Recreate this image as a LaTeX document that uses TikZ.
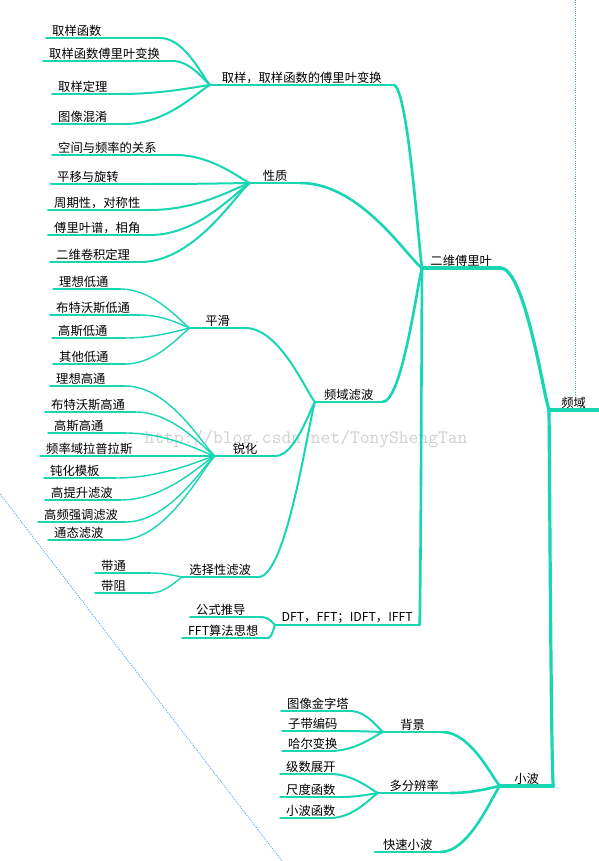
\documentclass[tikz,border=0pt]{standalone}
\usepackage{fontspec}
\setmainfont{Noto Sans CJK SC}
\usetikzlibrary{calc}
\definecolor{mm}{RGB}{24,214,178}
\definecolor{wmark}{RGB}{208,208,208}
\definecolor{dotb}{RGB}{70,160,250}
\tikzset{
  topic/.style={inner xsep=0pt, inner ysep=1pt, font=\fontsize{12.3}{14}\selectfont, text=black},
  lvA/.style={draw=mm, line width=3.6pt, line cap=round},
  lvB/.style={draw=mm, line width=3.2pt, line cap=round},
  lvC/.style={draw=mm, line width=2.6pt, line cap=round},
  lvD/.style={draw=mm, line width=2pt, line cap=round},
  lvE/.style={draw=mm, line width=1.4pt, line cap=round},
  dotline/.style={draw=dotb, line width=0.8pt, dash pattern=on 1pt off 1.2pt},
}
\newcommand\mmtopic[6]{%
  \pgfmathsetmacro\mmw{#3-#2}%
  \node[topic, anchor=south west] (#1) at (#2,#4) {\makebox[\mmw pt][c]{#6}};%
  \draw[#5] (#1.south west) -- (#1.south east);}
\newcommand\mmleaf[6]{%
  \pgfmathsetmacro\mmw{#3-#2}%
  \node[topic, anchor=south west] (#1) at (#2,#4) {\makebox[\mmw pt][l]{\hspace*{6pt}#6}};%
  \draw[#5] (#1.south west) -- (#1.south east);}
\newcommand\conn[3]{%
  \draw[#1] let \p1=(#2.south east), \p2=(#3.south west) in
    (\p1) .. controls ({(\x1+\x2)/2},\y1) and ({\x2-0.12*(\x2-\x1)},{\y2-0.12*(\y2-\y1)}) .. (\p2);}
\begin{document}
\begin{tikzpicture}[x=1pt,y=-1pt]
\fill[white] (0,0) rectangle (598,861);
\useasboundingbox (0,0) rectangle (598,861);
% watermark
\node[text=wmark, font=\fontsize{19}{19}\selectfont\ttfamily] (wm) at (306,439) {http://blog.csdn.net/TonyShengTan};
% dotted guide lines
\coordinate (va) at (575.5,0);
\coordinate (vb) at (575.5,395);
\coordinate (da) at (0,494);
\coordinate (db) at (282,861);
\draw[dotline] (va) -- (vb);
\draw[dotline] (da) -- (db);
% topics
\mmtopic{root}{549}{598}{410}{lvA}{频域}
\mmtopic{ft}{422}{500}{268}{lvB}{二维傅里叶}
\mmtopic{samp}{210}{393}{85}{lvC}{取样，取样函数的傅里叶变换}
\mmtopic{prop}{250}{300}{183}{lvC}{性质}
\mmtopic{filt}{315}{382}{402}{lvC}{频域滤波}
\mmtopic{dft}{275}{419}{625}{lvC}{DFT，FFT；IDFT，IFFT}
\mmleaf{s1}{46}{160}{38}{lvD}{取样函数}
\mmleaf{s2}{43}{172}{61}{lvD}{取样函数傅里叶变换}
\mmleaf{s3}{52}{120}{94}{lvD}{取样定理}
\mmleaf{s4}{52}{125}{124}{lvD}{图像混淆}
\mmleaf{p1}{52}{175}{155}{lvD}{空间与频率的关系}
\mmleaf{p2}{51}{150}{184}{lvD}{平移与旋转}
\mmleaf{p3}{48}{150}{210}{lvD}{周期性，对称性}
\mmleaf{p4}{48}{150}{235}{lvD}{傅里叶谱，相角}
\mmleaf{p5}{50}{140}{262}{lvD}{二维卷积定理}
\mmtopic{smooth}{190}{245}{328}{lvD}{平滑}
\mmtopic{sharp}{215}{275}{456}{lvD}{锐化}
\mmtopic{sel}{182}{258}{577}{lvD}{选择性滤波}
\mmleaf{lo1}{53}{120}{289}{lvE}{理想低通}
\mmleaf{lo2}{50}{140}{315}{lvE}{布特沃斯低通}
\mmleaf{lo3}{52}{125}{338}{lvE}{高斯低通}
\mmleaf{lo4}{53}{125}{364}{lvE}{其他低通}
\mmleaf{hi1}{50}{125}{386}{lvE}{理想高通}
\mmleaf{hi2}{45}{135}{412}{lvE}{布特沃斯高通}
\mmleaf{hi3}{48}{125}{433}{lvE}{高斯高通}
\mmleaf{hi4}{40}{140}{456}{lvE}{频率域拉普拉斯}
\mmleaf{hi5}{44}{115}{478}{lvE}{钝化模板}
\mmleaf{hi6}{45}{120}{500}{lvE}{高提升滤波}
\mmleaf{hi7}{38}{125}{522}{lvE}{高频强调滤波}
\mmleaf{hi8}{48}{120}{540}{lvE}{通态滤波}
\mmleaf{bp}{95}{150}{573}{lvE}{带通}
\mmleaf{bs}{95}{150}{593}{lvE}{带阻}
\mmleaf{d1}{190}{262}{617}{lvD}{公式推导}
\mmleaf{d2}{182}{268}{638}{lvD}{FFT算法思想}
\mmtopic{wav}{500}{553}{786}{lvB}{小波}
\mmtopic{bg}{383}{442}{732}{lvC}{背景}
\mmtopic{multi}{378}{450}{793}{lvC}{多分辨率}
\mmtopic{fast}{375}{440}{852}{lvC}{快速小波}
\mmleaf{b1}{281}{350}{711}{lvD}{图像金字塔}
\mmleaf{b2}{282}{340}{731}{lvD}{子带编码}
\mmleaf{b3}{282}{330}{751}{lvD}{哈尔变换}
\mmleaf{m1}{280}{330}{774}{lvD}{级数展开}
\mmleaf{m2}{280}{340}{797}{lvD}{尺度函数}
\mmleaf{m3}{280}{330}{818}{lvD}{小波函数}
% connectors
\conn{lvB}{ft}{root}
\conn{lvB}{wav}{root}
\foreach \c in {samp,prop,filt,dft} {\conn{lvC}{\c}{ft}}
\foreach \c in {s1,s2,s3,s4} {\conn{lvD}{\c}{samp}}
\foreach \c in {p1,p2,p3,p4,p5} {\conn{lvD}{\c}{prop}}
\foreach \c in {smooth,sharp,sel} {\conn{lvD}{\c}{filt}}
\foreach \c in {d1,d2} {\conn{lvD}{\c}{dft}}
\foreach \c in {lo1,lo2,lo3,lo4} {\conn{lvE}{\c}{smooth}}
\foreach \c in {hi1,hi2,hi3,hi4,hi5,hi6,hi7,hi8} {\conn{lvE}{\c}{sharp}}
\foreach \c in {bp,bs} {\conn{lvE}{\c}{sel}}
\foreach \c in {bg,multi,fast} {\conn{lvC}{\c}{wav}}
\foreach \c in {b1,b2,b3} {\conn{lvD}{\c}{bg}}
\foreach \c in {m1,m2,m3} {\conn{lvD}{\c}{multi}}
\end{tikzpicture}
\end{document}
